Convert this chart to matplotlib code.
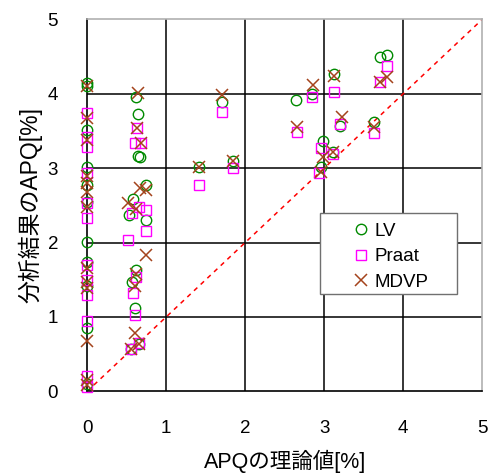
"""APQ: theoretical value vs. analysis result (LV / Praat / MDVP)."""

import matplotlib
matplotlib.use("Agg")
import matplotlib.pyplot as plt
from matplotlib.patches import Rectangle

plt.rcParams["font.family"] = ["Liberation Sans", "Noto Sans CJK JP", "DejaVu Sans"]

# ---- data ------------------------------------------------------------------
lv_x = [0, 0, 0, 0, 0, 0, 0, 0, 0, 0, 0,
        0.62, 0.645, 0.645, 0.67, 0.75, 0.58, 0.53, 0.74, 0.62, 0.57, 0.60, 0.56, 0.65,
        1.71, 1.42, 1.85,
        2.64, 2.84, 3.13, 3.20, 2.98, 3.11, 2.96, 3.63, 3.71, 3.80]
lv_y = [4.14, 4.11, 3.52, 3.02, 2.77, 2.55, 2.01, 1.74, 1.41, 0.85, 0.10,
        3.96, 3.73, 3.16, 3.15, 2.77, 2.59, 2.37, 2.30, 1.63, 1.47, 1.12, 0.57, 0.63,
        3.89, 3.01, 3.09,
        3.92, 4.00, 4.27, 3.57, 3.37, 3.22, 3.02, 3.62, 4.50, 4.52]

praat_x = [0, 0, 0, 0, 0, 0, 0, 0, 0, 0, 0, 0,
           0.63, 0.61, 0.675, 0.57, 0.66, 0.75, 0.74, 0.52, 0.62, 0.58, 0.60, 0.56, 0.65,
           1.71, 1.42, 1.85,
           2.65, 2.84, 3.13, 3.20, 2.96, 3.11, 2.93, 3.63, 3.80, 3.71]
praat_y = [3.74, 3.42, 3.29, 2.93, 2.53, 2.33, 1.70, 1.50, 1.29, 0.94, 0.20, 0.06,
           3.54, 3.34, 3.34, 2.40, 2.48, 2.44, 2.15, 2.03, 1.54, 1.32, 1.03, 0.57, 0.65,
           3.76, 2.78, 3.00,
           3.49, 3.96, 4.03, 3.59, 3.27, 3.19, 2.94, 3.47, 4.37, 4.16]

mdvp_x = [0, 0, 0, 0, 0, 0, 0, 0, 0, 0, 0, 0, 0,
          0.645, 0.63, 0.675, 0.67, 0.75, 0.52, 0.62, 0.75, 0.62, 0.60, 0.60, 0.56, 0.65,
          1.71, 1.42, 1.85,
          2.65, 2.86, 3.13, 3.22, 3.11, 2.98, 2.96, 3.63, 3.80, 3.71]
mdvp_y = [4.10, 3.67, 3.38, 2.90, 2.80, 2.68, 2.48, 1.66, 1.47, 1.39, 0.67, 0.15, 0.08,
          4.01, 3.54, 3.34, 2.73, 2.71, 2.53, 2.45, 1.83, 1.58, 1.41, 0.78, 0.57, 0.64,
          3.99, 3.01, 3.09,
          3.55, 4.12, 4.24, 3.69, 3.22, 3.15, 2.95, 3.55, 4.22, 4.16]

ideal = [0, 5]

GREEN = "#008a00"
MAGENTA = "#ff00ff"
BROWN = "#a4431c"

fig = plt.figure(figsize=(4.9, 4.74), dpi=100)
ax = fig.add_axes([0.178, 0.1745, 0.806, 0.7845])
ax.set_xlim(0, 5)
ax.set_ylim(0, 5)
ax.set_xticks(range(6))
ax.set_yticks(range(6))
ax.tick_params(length=0, labelsize=13.5, pad=21)

for v in range(1, 5):
    ax.axvline(v, color="black", lw=1.1, zorder=1)
    ax.axhline(v, color="black", lw=1.1, zorder=1)

ax.plot(ideal, ideal, color="red", ls=(0, (3, 3)), lw=1.1, zorder=2)

ax.plot(lv_x, lv_y, ls="none", marker="o", ms=7.5, mfc="none", mec=GREEN,
        mew=1.0, label="LV", zorder=3, clip_on=False)
ax.plot(praat_x, praat_y, ls="none", marker="s", ms=7.5, mfc="none", mec=MAGENTA,
        mew=1.0, label="Praat", zorder=3, clip_on=False)
ax.plot(mdvp_x, mdvp_y, ls="none", marker="x", ms=9, color=BROWN,
        mew=1.1, label="MDVP", zorder=3, clip_on=False)

for side in ("left", "bottom"):
    ax.spines[side].set_color("black")
    ax.spines[side].set_linewidth(1.2)
for side in ("top", "right"):
    ax.spines[side].set_color("#b0b0b0")
    ax.spines[side].set_linewidth(1.2)

ax.set_xlabel("APQの理論値[%]", fontsize=15.5, labelpad=9)
ax.set_ylabel("分析結果のAPQ[%]", fontsize=16.5, labelpad=4)

# legend: plain white box with a grey edge, entries set in from the left
ax.add_patch(Rectangle((0.589, 0.262), 0.347, 0.217, transform=ax.transAxes,
                       facecolor="white", edgecolor="#707070", lw=1.0, zorder=4))
leg = ax.legend(loc="upper left", bbox_to_anchor=(0.635, 0.494), frameon=False,
                fontsize=13.5, handlelength=0.8, handletextpad=0.35,
                labelspacing=0.45, borderpad=0.3)
leg.set_zorder(5)

fig.savefig("out.png", dpi=100)
